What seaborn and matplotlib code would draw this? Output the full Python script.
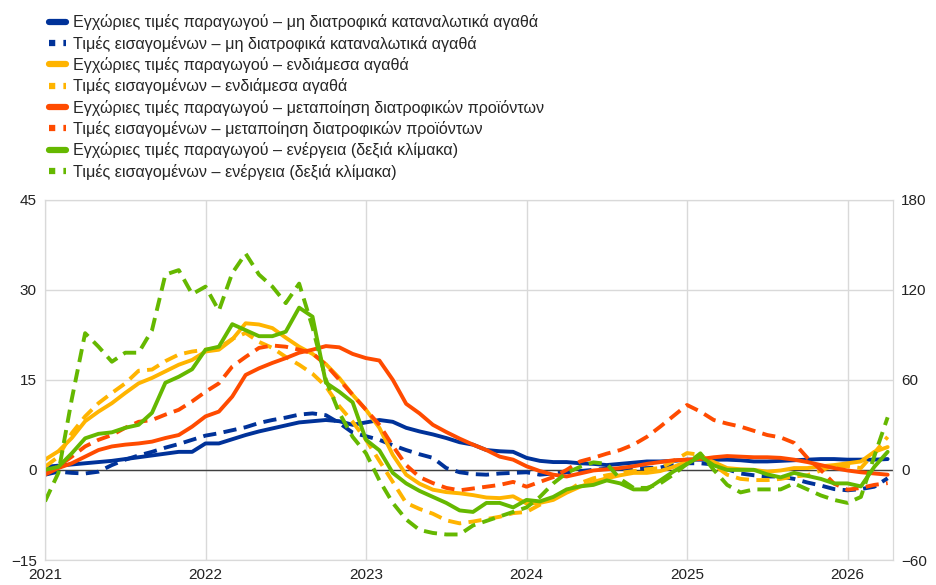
import numpy as np
import pandas as pd
import seaborn as sns
import matplotlib.pyplot as plt
from matplotlib.lines import Line2D

# μηνιαία στοιχεία, Ιαν. 2021 - Απρ. 2026
months = list(range(64))
year_labels = ['2021', '2022', '2023', '2024', '2025', '2026']

dom_nonfood = [0.5, 0.7, 0.9, 1.1, 1.3, 1.5, 1.8, 2.1, 2.4, 2.7, 3.0, 3.0, 4.4, 4.4, 5.1, 5.8,
               6.4, 6.9, 7.4, 7.9, 8.1, 8.3, 8.1, 7.5, 7.9, 8.3, 8.0, 7.0, 6.4, 5.9, 5.3, 4.6,
               4.2, 3.3, 3.1, 3.0, 2.0, 1.5, 1.3, 1.3, 1.1, 1.0, 0.8, 1.0, 1.2, 1.4, 1.4, 1.5,
               1.7, 1.7, 1.7, 1.7, 1.6, 1.4, 1.4, 1.5, 1.6, 1.7, 1.8, 1.8, 1.7, 1.7, 1.7, 1.8]
imp_nonfood = [-0.8, -0.3, -0.5, -0.6, -0.3, 0.8, 1.7, 2.4, 3.0, 3.7, 4.3, 5.0, 5.7, 6.1, 6.6, 7.1,
               7.8, 8.3, 8.7, 9.2, 9.4, 9.1, 7.8, 6.2, 5.6, 5.0, 4.1, 3.3, 2.6, 2.0, 0.3, -0.4,
               -0.7, -0.8, -0.6, -0.5, -0.4, -0.8, -0.6, -0.4, -0.2, 0.0, 0.2, 0.2, 0.2, 0.3, 0.4, 0.8,
               1.1, 1.1, 0.9, 0.1, -0.6, -0.9, -1.1, -1.1, -1.5, -2.1, -2.6, -3.2, -3.4, -3.2, -2.8, -1.4]
dom_interm = [1.7, 3.1, 5.3, 8.1, 9.7, 11.1, 12.8, 14.4, 15.3, 16.4, 17.5, 18.3, 19.7, 20.0, 21.7, 24.4,
              24.2, 23.6, 22.0, 20.5, 19.3, 17.6, 15.3, 12.5, 10.0, 7.0, 2.5, -0.8, -2.3, -3.3, -3.7, -3.9,
              -4.2, -4.6, -4.7, -4.4, -5.6, -5.5, -5.0, -3.8, -2.8, -2.0, -1.4, -0.9, -0.5, -0.5, -0.2, 0.5,
              1.4, 2.2, 1.3, 0.3, 0.1, 0.0, -0.3, -0.1, 0.3, 0.3, 0.6, 0.8, 1.1, 1.4, 3.0, 3.8]
imp_interm = [0.5, 2.2, 6.1, 8.9, 11.1, 12.8, 14.4, 16.5, 16.7, 18.1, 19.2, 19.7, 20.0, 20.3, 21.8, 22.8,
              21.3, 20.3, 18.8, 17.5, 16.0, 13.9, 10.6, 8.0, 5.0, 1.5, -2.0, -5.5, -6.5, -7.3, -8.4, -8.9,
              -8.6, -8.2, -7.8, -7.2, -7.0, -5.8, -4.7, -3.6, -2.2, -1.4, -0.9, -0.5, -0.2, 0.1, 0.3, 1.5,
              2.8, 2.5, 0.8, -0.8, -1.5, -1.7, -1.7, -1.5, -1.1, -0.9, -0.1, 0.7, 0.6, 0.3, 2.8, 5.5]
dom_food = [-0.8, 0.3, 1.1, 2.2, 3.3, 3.9, 4.2, 4.4, 4.7, 5.3, 5.8, 7.2, 8.9, 9.7, 12.2, 15.8,
            16.9, 17.8, 18.6, 19.5, 20.0, 20.6, 20.4, 19.3, 18.6, 18.2, 15.0, 11.0, 9.4, 7.5, 6.3, 5.2,
            4.2, 3.3, 2.2, 1.7, 0.6, -0.2, -0.8, -1.1, -0.6, -0.1, 0.1, 0.3, 0.6, 1.0, 1.3, 1.6,
            1.7, 1.8, 2.1, 2.3, 2.2, 2.1, 2.1, 2.0, 1.7, 1.3, 0.8, 0.3, -0.1, -0.4, -0.6, -0.8]
imp_food = [-0.6, 0.6, 2.2, 3.9, 5.0, 5.8, 7.0, 8.0, 8.3, 9.2, 10.0, 11.4, 13.0, 14.4, 17.2, 18.8,
            20.3, 20.7, 20.5, 20.0, 19.4, 17.5, 15.0, 12.5, 10.0, 7.5, 4.0, 0.8, -1.2, -2.2, -3.0, -3.4,
            -3.1, -2.8, -2.5, -2.0, -2.8, -2.0, -1.2, 0.0, 1.4, 2.0, 2.7, 3.3, 4.2, 5.5, 7.2, 9.0,
            10.8, 9.7, 8.3, 7.7, 7.2, 6.5, 5.8, 5.4, 4.5, 2.0, 0.0, -2.3, -3.3, -3.0, -2.5, -2.2]
# ενέργεια (δεξιά κλίμακα)
dom_energy = [0, 2, 11, 21, 24, 25, 28, 30, 38, 58, 62, 67, 80, 82, 97, 93,
              89, 89, 92, 108, 102, 58, 52, 45, 20, 13, -2, -9, -14, -18, -22, -27,
              -28, -22, -22, -25, -20, -21, -18, -13, -11, -10, -7, -9, -13, -13, -7, -1,
              4, 9, 3, 0, 0, 0, -3, -5, -2, -4, -6, -9, -9, -11, 2, 12]
imp_energy = [-21, -2, 47, 91, 82, 72, 78, 78, 93, 130, 133, 117, 122, 106, 131, 144,
              130, 122, 111, 124, 95, 60, 38, 22, 11, -7, -22, -33, -40, -42, -43, -43,
              -37, -34, -31, -28, -25, -18, -9, -2, 2, 5, 4, -6, -12, -12, -9, -3,
              4, 11, 0, -10, -15, -13, -13, -13, -9, -13, -17, -20, -22, -18, 9, 35]

labels = [
    'Εγχώριες τιμές παραγωγού – μη διατροφικά καταναλωτικά αγαθά',
    'Τιμές εισαγομένων – μη διατροφικά καταναλωτικά αγαθά',
    'Εγχώριες τιμές παραγωγού – ενδιάμεσα αγαθά',
    'Τιμές εισαγομένων – ενδιάμεσα αγαθά',
    'Εγχώριες τιμές παραγωγού – μεταποίηση διατροφικών προϊόντων',
    'Τιμές εισαγομένων – μεταποίηση διατροφικών προϊόντων',
    'Εγχώριες τιμές παραγωγού – ενέργεια (δεξιά κλίμακα)',
    'Τιμές εισαγομένων – ενέργεια (δεξιά κλίμακα)',
]

blue, yellow, orange, green = '#003299', '#FFB400', '#FF4B00', '#65B800'

sns.set_style('white')
plt.rcParams['font.family'] = ['Liberation Sans', 'DejaVu Sans']

fig = plt.figure(figsize=(9.36, 5.85), dpi=100)
ax = fig.add_axes([45 / 936, 25 / 585, 848 / 936, 360.5 / 585])
ax2 = ax.twinx()

lw = 2.8
dash = (0, (3.4, 1.9))
left_series = [(dom_nonfood, blue, '-'), (imp_nonfood, blue, dash),
               (dom_interm, yellow, '-'), (imp_interm, yellow, dash),
               (dom_food, orange, '-'), (imp_food, orange, dash)]
for vals, col, ls in left_series:
    sns.lineplot(x=months, y=vals, ax=ax, color=col, lw=lw, linestyle=ls)
sns.lineplot(x=months, y=dom_energy, ax=ax2, color=green, lw=lw, linestyle='-')
sns.lineplot(x=months, y=imp_energy, ax=ax2, color=green, lw=lw, linestyle=dash)

ax.set_ylim(-15, 45)
ax.set_yticks([-15, 0, 15, 30, 45])
ax2.set_ylim(-60, 180)
ax2.set_yticks([-60, 0, 60, 120, 180])
ax.set_xlim(0, 63.4)
ax.set_xticks([0, 12, 24, 36, 48, 60])
ax.set_xticklabels(year_labels)
ax.grid(True, color='#d9d9d9', lw=1)
ax.axhline(0, color='#404040', lw=1, zorder=1)
ax.set_axisbelow(True)
for a in (ax, ax2):
    a.set_xlabel('')
    a.set_ylabel('')
    a.tick_params(length=0, labelsize=11, colors='#222222', pad=6)
    for s in a.spines.values():
        s.set_color('#d9d9d9')

handles = []
for col, ls in [(blue, '-'), (blue, ':'), (yellow, '-'), (yellow, ':'),
                (orange, '-'), (orange, ':'), (green, '-'), (green, ':')]:
    style = '-' if ls == '-' else (0, (1, 1.3))
    handles.append(Line2D([], [], color=col, lw=4.5, linestyle=style))
fig.legend(handles, labels, loc='upper left', bbox_to_anchor=(43 / 936, 1 - 8 / 585),
           frameon=False, fontsize=11.6, handlelength=1.0, handletextpad=0.45,
           labelspacing=0.33, borderaxespad=0)

fig.savefig('out.png', dpi=100)
